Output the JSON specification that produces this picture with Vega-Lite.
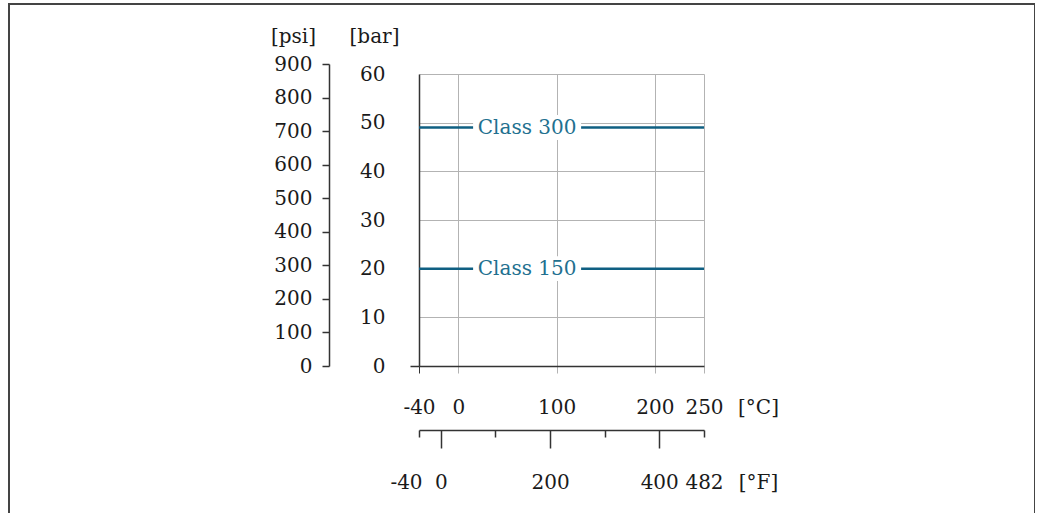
{
  "$schema": "https://vega.github.io/schema/vega-lite/v6.json",
  "width": 1026,
  "height": 515,
  "autosize": {"type": "none"},
  "padding": {"left": 9, "top": 4, "right": 0, "bottom": 0},
  "config": {
    "view": {"stroke": "#444444", "strokeWidth": 2},
    "font": "DejaVu Serif",
    "axis": {
      "labelFont": "DejaVu Serif",
      "titleFont": "DejaVu Serif",
      "labelFontSize": 20,
      "titleFontSize": 20,
      "titleFontWeight": "normal",
      "labelColor": "#1a1a1a",
      "titleColor": "#1a1a1a",
      "domainColor": "#333333",
      "domainWidth": 1.5,
      "tickColor": "#333333",
      "tickWidth": 1.5,
      "gridColor": "#b3b3b3",
      "gridWidth": 1,
      "labelFlush": false,
      "labelOverlap": false,
      "titleAngle": 0,
      "titleAlign": "center",
      "titleBaseline": "alphabetic"
    }
  },
  "datasets": {
    "lines": [
      {"class": "Class 300", "T": -40, "F": -40, "bar": 49, "psi": 711},
      {"class": "Class 300", "T": 250, "F": 482, "bar": 49, "psi": 711},
      {"class": "Class 150", "T": -40, "F": -40, "bar": 20, "psi": 290},
      {"class": "Class 150", "T": 250, "F": 482, "bar": 20, "psi": 290}
    ],
    "labels": [
      {"class": "Class 300", "T": 70, "bar": 49},
      {"class": "Class 150", "T": 70, "bar": 20}
    ]
  },
  "layer": [
    {
      "data": {"name": "lines"},
      "mark": {"type": "point", "opacity": 0},
      "encoding": {
        "x": {
          "field": "T",
          "type": "quantitative",
          "scale": {"domain": [-40, 250], "range": [410, 695], "nice": false, "zero": false},
          "axis": {
            "orient": "top",
            "offset": 0,
            "values": [-40, 0, 100, 200, 250],
            "grid": true,
            "gridOpacity": {"condition": {"test": "datum.value == -40", "value": 0}, "value": 1},
            "domain": false,
            "ticks": false,
            "labels": false,
            "title": null
          }
        },
        "y": {
          "field": "bar",
          "type": "quantitative",
          "scale": {"domain": [0, 60], "range": [362, 70], "nice": false, "zero": false},
          "axis": null
        }
      }
    },
    {
      "encoding": {
        "x": {
          "field": "T",
          "type": "quantitative",
          "scale": {"domain": [-40, 250], "range": [410, 695], "nice": false, "zero": false},
          "axis": {
            "orient": "bottom",
            "offset": -153,
            "values": [-40, 0, 100, 200, 250],
            "grid": false,
            "domain": true,
            "ticks": true,
            "tickSize": 7,
            "tickWidth": 1,
            "tickColor": {"condition": {"test": "datum.value == -40", "value": "#333333"}, "value": "#b3b3b3"},
            "labelPadding": 40,
            "labelBaseline": "alphabetic",
            "labelExpr": "datum.value < 0 ? '-' + abs(datum.value) : datum.label",
            "title": "[°C]",
            "titleX": 749,
            "titleY": 47
          }
        },
        "y": {
          "field": "bar",
          "type": "quantitative",
          "scale": {"domain": [0, 60], "range": [362, 70], "nice": false, "zero": false},
          "axis": {
            "orient": "left",
            "offset": -410,
            "values": [0, 10, 20, 30, 40, 50, 60],
            "grid": true,
            "gridOpacity": {"condition": {"test": "datum.value == 0", "value": 0}, "value": 1},
            "domain": true,
            "ticks": true,
            "tickSize": 9,
            "tickColor": {"condition": {"test": "datum.value == 0", "value": "#333333"}, "value": "transparent"},
            "labelPadding": 25,
            "title": "[bar]",
            "titleX": -45,
            "titleY": 38
          }
        }
      },
      "layer": [
        {
          "data": {"name": "lines"},
          "mark": {"type": "line", "color": "#0f5f82", "strokeWidth": 2.5},
          "encoding": {"detail": {"field": "class"}}
        },
        {
          "data": {"name": "labels"},
          "mark": {
            "type": "point",
            "shape": "M-1,-0.23L1,-0.23L1,0.23L-1,0.23Z",
            "size": 11664,
            "filled": true,
            "color": "white",
            "opacity": 1,
            "strokeWidth": 0
          }
        },
        {
          "data": {"name": "labels"},
          "mark": {
            "type": "text",
            "font": "DejaVu Serif",
            "fontSize": 20,
            "color": "#22708f",
            "align": "center",
            "baseline": "middle"
          },
          "encoding": {"text": {"field": "class"}}
        }
      ]
    },
    {
      "data": {"name": "lines"},
      "mark": {"type": "point", "opacity": 0},
      "encoding": {
        "x": {
          "field": "F",
          "type": "quantitative",
          "scale": {"domain": [-40, 482], "range": [410, 695], "nice": false, "zero": false},
          "axis": {
            "orient": "bottom",
            "offset": -89,
            "values": [-40, 0, 100, 200, 300, 400, 482],
            "grid": false,
            "domain": true,
            "ticks": true,
            "tickSize": {"condition": {"test": "datum.value == 0 || datum.value == 200 || datum.value == 400", "value": 18}, "value": 7},
            "labelExpr": "datum.value == 100 || datum.value == 300 ? '' : (datum.value < 0 ? '-' + abs(datum.value) : datum.label)",
            "labelOffset": {"condition": {"test": "datum.value == -40", "value": -13}, "value": 0},
            "labelPadding": {"condition": {"test": "datum.value == 0 || datum.value == 200 || datum.value == 400", "value": 40}, "value": 51},
            "labelBaseline": "alphabetic",
            "title": "[°F]",
            "titleX": 749,
            "titleY": 58
          }
        }
      }
    },
    {
      "data": {"name": "lines"},
      "mark": {"type": "point", "opacity": 0},
      "encoding": {
        "y": {
          "field": "psi",
          "type": "quantitative",
          "scale": {"domain": [0, 900], "range": [362, 60], "nice": false, "zero": false},
          "axis": {
            "orient": "left",
            "offset": -320,
            "values": [0, 100, 200, 300, 400, 500, 600, 700, 800, 900],
            "grid": false,
            "domain": true,
            "ticks": true,
            "tickSize": 7,
            "labelPadding": 10,
            "title": "[psi]",
            "titleX": -36,
            "titleY": 38
          }
        }
      }
    }
  ],
  "resolve": {
    "scale": {"x": "independent", "y": "independent"},
    "axis": {"x": "independent", "y": "independent"}
  }
}
